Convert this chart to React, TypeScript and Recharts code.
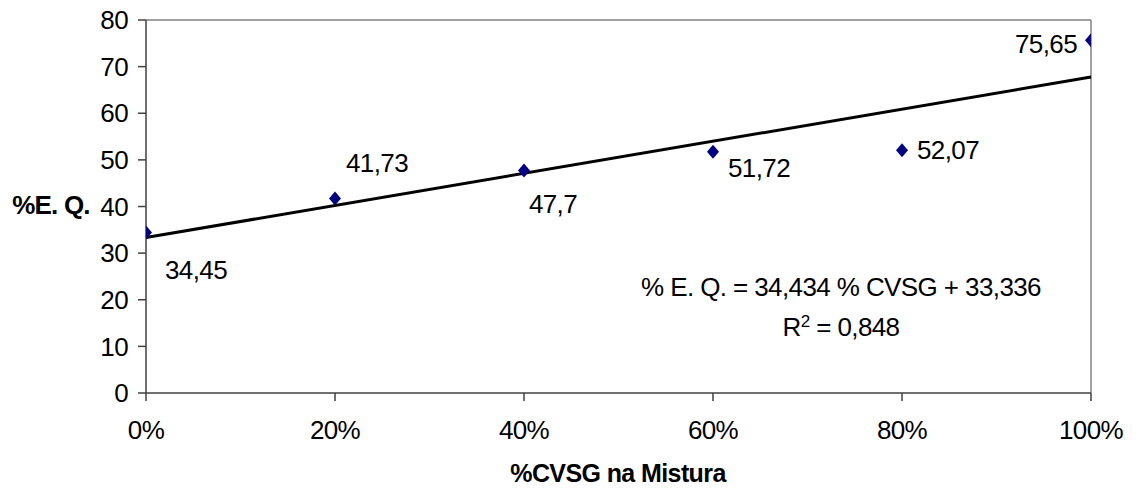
import React from 'react';
import { ComposedChart, Scatter, XAxis, YAxis, ReferenceLine } from 'recharts';

const categories = [0, 0.2, 0.4, 0.6, 0.8, 1];
const values = [34.45, 41.73, 47.7, 51.72, 52.07, 75.65];
const valueLabels = ['34,45', '41,73', '47,7', '51,72', '52,07', '75,65'];
const xTicks = [0, 0.2, 0.4, 0.6, 0.8, 1];
const xTickLabels = ['0%', '20%', '40%', '60%', '80%', '100%'];
const yTicks = [0, 10, 20, 30, 40, 50, 60, 70, 80];
const trendSlope = 34.434;
const trendIntercept = 33.336;
const equationText = '% E. Q. = 34,434 % CVSG + 33,336';
const xTitle = '%CVSG na Mistura';
const yTitle = '%E. Q.';

// label offsets relative to each point (dx, dy of text centre)
const labelOffsets = [
  [50, 38],
  [42, -35],
  [29, 33],
  [46, 16],
  [46, 0],
  [-45, 4],
];

const points = categories.map((x, i) => ({ x, y: values[i], label: valueLabels[i], idx: i }));
const trendSegment = [
  { x: categories[0], y: trendIntercept + trendSlope * categories[0] },
  { x: categories[categories.length - 1], y: trendIntercept + trendSlope * categories[categories.length - 1] },
];

const FONT = '"Liberation Sans", Arial, sans-serif';
const FS = 26;
const LS = -0.6;

const Diamond = (props: any) => {
  const { cx, cy, payload } = props;
  if (cx == null || cy == null) return null;
  const off = labelOffsets[payload.idx] || [0, 0];
  return (
    <g>
      <polygon
        points={`${cx},${cy - 7} ${cx + 6},${cy} ${cx},${cy + 7} ${cx - 6},${cy}`}
        fill="#000080"
      />
      <text
        x={cx + off[0]}
        y={cy + off[1]}
        textAnchor="middle"
        dominantBaseline="central"
        fontFamily={FONT}
        fontSize={FS}
        letterSpacing={LS}
        fill="#000"
      >
        {payload.label}
      </text>
    </g>
  );
};

export default function App() {
  const tickStyle = { fontFamily: FONT, fontSize: FS, fill: '#000', letterSpacing: LS };
  return (
    <div style={{ position: 'absolute', left: 0, top: 0, width: 1136, height: 490, background: '#fff', overflow: 'hidden' }}>
      <ComposedChart
        width={1136}
        height={490}
        margin={{ top: 20, right: 45, bottom: 47, left: 86 }}
      >
        <XAxis
          type="number"
          dataKey="x"
          domain={[0, 1]}
          ticks={xTicks}
          tickFormatter={(v: number) => xTickLabels[xTicks.indexOf(v)] ?? ''}
          height={50}
          tickSize={8}
          tickMargin={20}
          interval={0}
          stroke="#404040"
          strokeWidth={1.5}
          tick={tickStyle}
          allowDataOverflow
        />
        <YAxis
          type="number"
          dataKey="y"
          domain={[0, 80]}
          ticks={yTicks}
          width={60}
          tickSize={8}
          tickMargin={10}
          interval={0}
          stroke="#404040"
          strokeWidth={1.5}
          tick={tickStyle}
          allowDataOverflow
        />
        <ReferenceLine y={80} stroke="#808080" strokeWidth={1.5} />
        <ReferenceLine x={1} stroke="#808080" strokeWidth={1.5} />
        <ReferenceLine segment={trendSegment} stroke="#000" strokeWidth={3} ifOverflow="visible" />
        <Scatter data={points} dataKey="y" shape={Diamond} isAnimationActive={false} />
      </ComposedChart>
      <div
        style={{
          position: 'absolute', left: 641, top: 267, width: 400, textAlign: 'center',
          fontFamily: FONT, fontSize: FS, letterSpacing: LS, lineHeight: '40px', color: '#000',
          whiteSpace: 'nowrap',
        }}
      >
        <div>{equationText}</div>
        <div>
          R<span style={{ fontSize: 17, position: 'relative', top: -9 }}>2</span> = 0,848
        </div>
      </div>
      <div
        style={{
          position: 'absolute', left: 418, top: 461, width: 400, textAlign: 'center',
          fontFamily: FONT, fontSize: 25, fontWeight: 'bold', letterSpacing: -0.6, color: '#000',
          whiteSpace: 'nowrap', lineHeight: '24px',
        }}
      >
        {xTitle}
      </div>
      <div
        style={{
          position: 'absolute', left: 0, top: 193, width: 102, textAlign: 'center',
          fontFamily: FONT, fontSize: 26, fontWeight: 'bold', letterSpacing: -0.8, color: '#000',
          whiteSpace: 'nowrap', lineHeight: '24px',
        }}
      >
        {yTitle}
      </div>
    </div>
  );
}
